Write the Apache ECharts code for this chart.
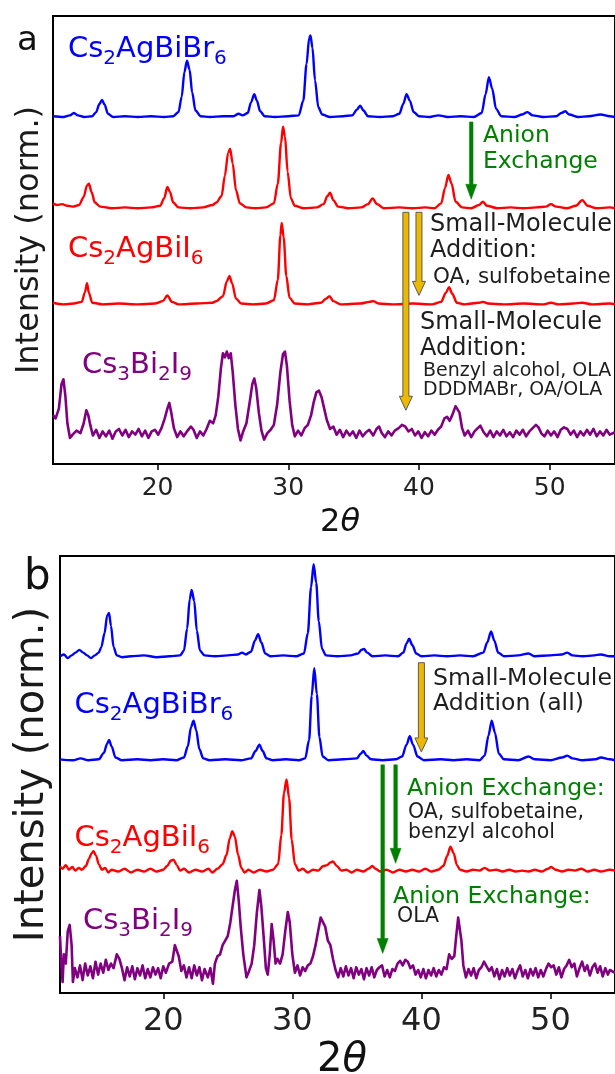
<!DOCTYPE html>
<html>
<head>
<meta charset="utf-8">
<script src="https://cdn.jsdelivr.net/npm/echarts@6.0.0/dist/echarts.min.js"></script>
<style>html,body{margin:0;padding:0;background:#fff}#c{width:615px;height:1074px}</style>
</head>
<body>
<div id="c"></div>
<script>
// ---------- data (2theta in degrees, normalized intensity) ----------
const xTicks = [20, 30, 40, 50];

// Panel a
const aBr = [[12.0,0.01],[12.8,0.0],[13.3,0.02],[13.6,0.05],[13.9,0.02],[14.4,0.0],[15.0,0.01],[15.3,0.06],[15.55,0.16],[15.75,0.21],[15.95,0.15],[16.2,0.04],[16.6,0.0],[17.5,0.01],[18.5,0.0],[19.5,0.01],[20.5,0.0],[21.2,0.01],[21.6,0.06],[21.85,0.25],[22.05,0.55],[22.25,0.69],[22.45,0.58],[22.65,0.3],[22.9,0.08],[23.3,0.01],[24.0,0.0],[25.0,0.01],[25.8,0.01],[26.2,0.04],[26.5,0.02],[26.9,0.05],[27.15,0.18],[27.4,0.28],[27.6,0.2],[27.85,0.07],[28.2,0.01],[29.0,0.0],[30.0,0.01],[30.8,0.02],[31.15,0.2],[31.4,0.65],[31.6,0.97],[31.7,1.0],[31.85,0.85],[32.05,0.45],[32.3,0.12],[32.6,0.03],[33.2,0.0],[34.2,0.01],[34.9,0.02],[35.25,0.09],[35.5,0.14],[35.75,0.08],[36.1,0.01],[37.0,0.0],[38.0,0.01],[38.5,0.04],[38.8,0.16],[39.05,0.28],[39.3,0.2],[39.6,0.06],[40.0,0.01],[40.8,0.0],[41.5,0.02],[42.2,0.0],[43.2,0.01],[44.2,0.0],[44.8,0.05],[45.1,0.28],[45.35,0.49],[45.6,0.35],[45.9,0.1],[46.3,0.01],[47.3,0.0],[47.9,0.03],[48.3,0.06],[48.7,0.02],[49.5,0.0],[50.5,0.01],[50.9,0.05],[51.2,0.07],[51.5,0.03],[52.2,0.0],[53.0,0.01],[53.9,0.03],[54.6,0.01],[55,0.0]];
const aIAnion = [[12.0,0.06],[12.3,0.04],[12.7,0.05],[13.1,0.03],[13.5,0.02],[14.0,0.04],[14.35,0.14],[14.6,0.28],[14.75,0.3],[14.95,0.2],[15.2,0.07],[15.6,0.02],[16.5,0.0],[17.5,0.01],[18.5,0.0],[19.5,0.01],[20.2,0.03],[20.5,0.12],[20.75,0.26],[20.95,0.2],[21.2,0.07],[21.6,0.01],[22.5,0.0],[23.5,0.01],[24.2,0.04],[24.5,0.07],[24.9,0.15],[25.15,0.4],[25.4,0.68],[25.55,0.73],[25.75,0.55],[26.0,0.22],[26.3,0.06],[26.8,0.01],[27.5,0.0],[28.3,0.01],[28.9,0.06],[29.2,0.3],[29.45,0.8],[29.6,1.0],[29.75,0.88],[29.95,0.45],[30.2,0.12],[30.5,0.03],[31.2,0.0],[32.2,0.01],[32.7,0.05],[33.0,0.15],[33.2,0.19],[33.45,0.1],[33.8,0.02],[34.6,0.0],[35.6,0.01],[36.1,0.05],[36.45,0.12],[36.8,0.05],[37.3,0.0],[38.5,0.01],[39.5,0.0],[40.5,0.01],[41.2,0.0],[41.7,0.06],[42.0,0.25],[42.25,0.41],[42.5,0.3],[42.8,0.08],[43.3,0.01],[44.0,0.0],[44.6,0.04],[44.9,0.08],[45.2,0.03],[46.0,0.0],[47.0,0.01],[48.0,0.0],[49.0,0.01],[49.7,0.02],[50.1,0.05],[50.5,0.02],[51.3,0.0],[52.0,0.03],[52.5,0.1],[52.9,0.03],[53.6,0.0],[54.6,0.01],[55,0.0]];
const aI = [[12.0,0.02],[12.8,0.0],[13.6,0.01],[14.2,0.03],[14.45,0.15],[14.6,0.26],[14.75,0.14],[15.0,0.02],[15.8,0.0],[17.0,0.01],[18.5,0.0],[19.8,0.01],[20.4,0.04],[20.75,0.11],[21.1,0.03],[21.6,0.0],[23.0,0.01],[24.2,0.02],[24.5,0.04],[25.0,0.1],[25.3,0.28],[25.5,0.35],[25.7,0.26],[26.0,0.07],[26.4,0.01],[27.3,0.0],[28.3,0.01],[28.9,0.05],[29.2,0.3],[29.4,0.85],[29.5,1.0],[29.65,0.82],[29.85,0.35],[30.1,0.08],[30.5,0.01],[31.5,0.0],[32.5,0.02],[32.9,0.07],[33.15,0.1],[33.45,0.04],[34.0,0.0],[35.5,0.01],[36.2,0.03],[36.5,0.04],[36.9,0.01],[38.0,0.0],[39.5,0.01],[41.0,0.0],[41.7,0.03],[42.05,0.14],[42.3,0.21],[42.55,0.13],[42.9,0.02],[43.5,0.0],[44.6,0.02],[44.9,0.03],[45.3,0.01],[46.5,0.0],[48.0,0.01],[49.5,0.0],[50.1,0.02],[50.7,0.0],[51.8,0.01],[52.5,0.02],[53.2,0.0],[54.6,0.01],[55,0.0]];
const aBiI = [[12.0,0.22],[12.2,0.18],[12.45,0.3],[12.65,0.6],[12.8,0.66],[12.95,0.45],[13.1,0.12],[13.3,-0.06],[13.5,-0.02],[13.8,0.03],[14.1,0.0],[14.35,0.12],[14.55,0.28],[14.7,0.22],[14.85,0.1],[15.05,-0.03],[15.3,0.04],[15.55,-0.06],[15.8,0.02],[16.05,-0.04],[16.3,0.03],[16.55,-0.07],[16.8,0.02],[17.05,0.05],[17.3,-0.03],[17.55,0.04],[17.8,-0.05],[18.05,0.02],[18.3,-0.02],[18.55,0.05],[18.8,-0.04],[19.05,0.03],[19.3,-0.06],[19.55,0.02],[19.8,0.04],[20.05,-0.02],[20.3,0.06],[20.55,0.18],[20.75,0.3],[20.9,0.37],[21.05,0.25],[21.25,0.06],[21.5,-0.05],[21.75,0.02],[22.0,-0.04],[22.3,0.03],[22.55,0.08],[22.75,0.04],[23.0,-0.06],[23.25,0.02],[23.5,-0.03],[23.75,0.05],[24.0,0.15],[24.25,0.12],[24.45,0.22],[24.65,0.45],[24.85,0.8],[25.0,0.98],[25.15,0.93],[25.3,1.0],[25.45,0.92],[25.6,0.98],[25.75,0.75],[25.95,0.35],[26.15,0.05],[26.35,-0.09],[26.55,0.02],[26.8,0.12],[27.05,0.38],[27.25,0.6],[27.4,0.67],[27.55,0.55],[27.75,0.25],[27.95,0.03],[28.15,-0.08],[28.4,0.0],[28.65,0.04],[28.9,0.1],[29.15,0.35],[29.4,0.75],[29.6,0.97],[29.75,1.0],[29.9,0.82],[30.1,0.4],[30.3,0.1],[30.5,-0.04],[30.75,0.03],[31.0,-0.03],[31.25,0.06],[31.5,0.1],[31.75,0.22],[31.95,0.38],[32.15,0.5],[32.35,0.52],[32.55,0.44],[32.75,0.3],[32.95,0.16],[33.2,0.05],[33.45,0.08],[33.7,-0.02],[33.95,0.04],[34.2,-0.05],[34.45,0.03],[34.7,-0.03],[34.95,0.02],[35.2,-0.06],[35.45,0.03],[35.7,-0.04],[35.95,0.01],[36.2,0.04],[36.5,-0.03],[36.75,0.05],[36.95,0.08],[37.15,0.0],[37.4,-0.05],[37.65,0.02],[37.9,-0.03],[38.15,0.03],[38.45,0.06],[38.7,0.1],[38.95,0.08],[39.2,0.02],[39.45,0.05],[39.7,-0.03],[39.95,0.02],[40.2,-0.06],[40.45,0.01],[40.7,-0.04],[40.95,0.03],[41.2,-0.02],[41.45,0.04],[41.7,0.08],[41.95,0.18],[42.15,0.2],[42.35,0.15],[42.55,0.22],[42.8,0.33],[42.95,0.34],[43.1,0.25],[43.3,0.06],[43.5,-0.03],[43.75,0.03],[44.0,-0.05],[44.25,0.02],[44.5,0.06],[44.7,0.09],[44.95,0.01],[45.2,-0.04],[45.45,0.03],[45.7,-0.05],[45.95,0.02],[46.2,-0.03],[46.45,0.04],[46.7,-0.04],[46.95,0.01],[47.2,-0.05],[47.45,0.03],[47.7,-0.02],[47.95,0.04],[48.2,-0.04],[48.45,0.02],[48.7,0.06],[48.95,0.1],[49.15,0.07],[49.35,0.0],[49.6,-0.04],[49.85,0.03],[50.1,-0.03],[50.35,0.02],[50.6,-0.05],[50.85,0.04],[51.1,0.07],[51.35,0.05],[51.6,-0.02],[51.85,0.03],[52.1,-0.05],[52.35,0.02],[52.6,-0.03],[52.85,0.04],[53.1,-0.02],[53.35,0.05],[53.6,-0.04],[53.85,0.02],[54.1,-0.03],[54.35,0.04],[54.6,-0.02],[55,0.01]];

// Panel b
const bBrSM = [[12.0,0.0],[12.3,0.02],[12.6,-0.02],[12.9,0.01],[13.2,0.04],[13.5,0.07],[13.8,0.04],[14.1,0.01],[14.4,-0.02],[14.7,0.01],[15.0,0.04],[15.2,0.1],[15.45,0.25],[15.65,0.44],[15.8,0.47],[15.95,0.33],[16.15,0.1],[16.4,0.01],[16.8,-0.01],[17.5,0.0],[18.5,0.01],[19.5,-0.01],[20.5,0.0],[21.3,0.01],[21.6,0.06],[21.85,0.3],[22.05,0.62],[22.2,0.72],[22.4,0.6],[22.6,0.28],[22.85,0.06],[23.2,0.01],[24.0,0.0],[25.0,0.01],[25.8,0.02],[26.1,0.04],[26.4,0.02],[26.8,0.05],[27.1,0.17],[27.35,0.24],[27.6,0.15],[27.9,0.03],[28.3,0.0],[29.3,0.01],[30.3,0.0],[30.9,0.03],[31.2,0.25],[31.45,0.75],[31.65,1.0],[31.85,0.8],[32.05,0.38],[32.3,0.08],[32.6,0.01],[33.5,0.0],[34.5,0.01],[35.1,0.03],[35.35,0.07],[35.55,0.08],[35.8,0.04],[36.2,0.0],[37.2,0.01],[38.2,0.0],[38.6,0.04],[38.85,0.14],[39.05,0.19],[39.3,0.12],[39.6,0.03],[40.0,0.0],[41.0,0.01],[42.0,0.0],[43.0,0.01],[44.0,0.0],[44.8,0.04],[45.1,0.15],[45.4,0.27],[45.65,0.17],[45.95,0.04],[46.4,0.0],[47.5,0.01],[48.3,0.03],[48.8,0.0],[50.0,0.01],[50.9,0.02],[51.3,0.04],[51.7,0.01],[52.5,0.0],[53.4,0.01],[53.9,0.02],[54.6,0.0],[55,0.0]];
const bBr = [[12.0,0.01],[13.0,0.0],[13.6,0.02],[14.2,0.0],[15.0,0.01],[15.4,0.08],[15.65,0.18],[15.8,0.22],[16.0,0.15],[16.3,0.03],[16.8,0.0],[18.0,0.01],[19.0,0.0],[20.0,0.01],[21.0,0.0],[21.6,0.03],[21.9,0.15],[22.15,0.36],[22.35,0.43],[22.55,0.33],[22.8,0.12],[23.1,0.02],[23.6,0.0],[24.8,0.01],[26.0,0.0],[26.8,0.02],[27.15,0.1],[27.45,0.17],[27.7,0.1],[28.0,0.02],[28.5,0.0],[29.5,0.01],[30.5,0.0],[31.0,0.02],[31.3,0.22],[31.5,0.7],[31.7,1.0],[31.9,0.72],[32.1,0.25],[32.35,0.04],[32.8,0.0],[34.0,0.01],[35.0,0.02],[35.3,0.07],[35.5,0.1],[35.75,0.05],[36.1,0.01],[37.0,0.0],[38.0,0.01],[38.5,0.04],[38.85,0.17],[39.1,0.26],[39.35,0.17],[39.7,0.04],[40.2,0.0],[41.5,0.01],[42.5,0.0],[43.5,0.01],[44.5,0.0],[44.9,0.05],[45.2,0.27],[45.45,0.43],[45.7,0.3],[46.0,0.07],[46.4,0.01],[47.5,0.0],[48.3,0.04],[48.8,0.01],[50.0,0.0],[50.9,0.03],[51.3,0.05],[51.7,0.02],[52.5,0.0],[53.5,0.01],[53.9,0.03],[54.6,0.01],[55,0.0]];
const bI = [[12.0,0.06],[12.2,0.03],[12.45,0.07],[12.7,0.02],[12.95,0.05],[13.2,0.01],[13.45,0.04],[13.7,0.02],[14.0,0.06],[14.25,0.14],[14.45,0.2],[14.6,0.22],[14.8,0.17],[15.0,0.08],[15.25,0.02],[15.5,0.04],[15.75,-0.01],[16.0,0.02],[16.5,0.0],[17.0,0.03],[17.5,-0.01],[18.0,0.02],[18.5,0.0],[19.0,0.03],[19.5,0.0],[20.0,0.02],[20.3,0.06],[20.6,0.12],[20.8,0.13],[21.05,0.07],[21.3,0.01],[21.6,0.03],[22.0,-0.01],[22.5,0.02],[23.0,0.0],[23.5,0.03],[23.8,-0.01],[24.2,0.03],[24.6,0.08],[24.9,0.18],[25.15,0.36],[25.35,0.44],[25.55,0.38],[25.8,0.18],[26.05,0.04],[26.3,-0.01],[26.6,0.02],[27.0,-0.01],[27.5,0.02],[28.0,0.0],[28.5,0.02],[28.9,0.08],[29.15,0.4],[29.35,0.85],[29.55,1.0],[29.75,0.8],[29.95,0.35],[30.2,0.08],[30.5,0.01],[30.8,0.03],[31.2,-0.01],[31.6,0.02],[32.0,0.01],[32.4,0.06],[32.7,0.07],[32.95,0.1],[33.15,0.11],[33.45,0.06],[33.8,0.01],[34.2,0.02],[34.6,-0.01],[35.0,0.02],[35.5,0.0],[35.9,0.03],[36.2,0.06],[36.45,0.03],[36.8,0.0],[37.3,0.02],[37.8,-0.01],[38.3,0.02],[38.8,0.0],[39.3,0.02],[39.8,0.0],[40.3,0.03],[40.8,0.0],[41.3,0.02],[41.7,0.06],[42.0,0.17],[42.25,0.27],[42.5,0.2],[42.75,0.07],[43.0,0.02],[43.5,0.0],[44.0,0.02],[44.5,0.01],[44.9,0.04],[45.3,0.01],[45.8,0.02],[46.3,0.0],[46.8,0.02],[47.3,0.0],[47.8,0.01],[48.3,0.0],[48.8,0.02],[49.3,0.0],[49.8,0.03],[50.05,0.05],[50.4,0.02],[50.9,0.0],[51.4,0.02],[51.9,0.01],[52.4,0.03],[52.9,0.0],[53.4,0.02],[53.9,0.0],[54.6,0.02],[55,0.01]];
const bBiI = [[12.0,0.4],[12.1,0.1],[12.2,-0.1],[12.3,0.2],[12.45,0.1],[12.6,0.45],[12.75,0.52],[12.9,0.3],[13.0,-0.1],[13.15,0.05],[13.35,-0.05],[13.55,0.08],[13.75,-0.08],[13.95,0.1],[14.15,-0.03],[14.35,0.07],[14.55,-0.06],[14.75,0.12],[14.95,-0.02],[15.15,0.1],[15.35,0.0],[15.55,0.14],[15.75,0.03],[15.95,0.1],[16.15,0.05],[16.4,0.2],[16.6,0.15],[16.8,0.05],[17.0,-0.08],[17.2,0.06],[17.4,-0.04],[17.6,0.07],[17.8,-0.07],[18.0,0.05],[18.2,-0.03],[18.4,0.08],[18.6,-0.06],[18.8,0.04],[19.0,-0.05],[19.2,0.06],[19.4,-0.02],[19.6,0.05],[19.8,-0.06],[20.0,0.07],[20.2,0.0],[20.45,0.1],[20.7,0.12],[20.9,0.3],[21.05,0.32],[21.2,0.18],[21.4,0.02],[21.6,0.08],[21.8,-0.05],[22.0,0.06],[22.2,-0.06],[22.4,0.08],[22.6,-0.03],[22.8,0.06],[23.0,-0.08],[23.2,0.04],[23.45,-0.05],[23.65,0.05],[23.85,-0.12],[24.0,0.1],[24.2,0.18],[24.4,0.2],[24.6,0.3],[24.8,0.35],[25.0,0.4],[25.2,0.55],[25.4,0.75],[25.55,0.9],[25.7,1.0],[25.85,0.78],[26.0,0.5],[26.2,0.2],[26.45,-0.05],[26.65,0.02],[26.85,0.1],[27.05,0.3],[27.25,0.65],[27.45,0.9],[27.6,0.72],[27.8,0.35],[27.95,0.05],[28.1,-0.02],[28.25,0.2],[28.4,0.53],[28.55,0.35],[28.7,0.1],[28.85,0.15],[29.05,0.1],[29.25,0.2],[29.45,0.45],[29.65,0.66],[29.8,0.55],[30.0,0.2],[30.2,0.0],[30.4,0.08],[30.6,-0.03],[30.8,0.06],[31.0,0.02],[31.2,0.08],[31.4,0.1],[31.6,0.18],[31.8,0.3],[32.0,0.45],[32.2,0.6],[32.35,0.62],[32.55,0.5],[32.75,0.35],[32.95,0.3],[33.15,0.15],[33.35,0.03],[33.55,-0.05],[33.75,0.05],[33.95,-0.04],[34.15,0.07],[34.35,-0.03],[34.55,0.05],[34.75,-0.06],[34.95,0.06],[35.15,-0.02],[35.35,0.04],[35.55,-0.07],[35.75,0.05],[35.95,-0.03],[36.15,0.06],[36.35,-0.05],[36.55,0.03],[36.75,0.06],[36.95,0.08],[37.15,-0.04],[37.35,0.03],[37.55,-0.05],[37.75,0.04],[37.95,0.02],[38.15,0.1],[38.35,0.13],[38.55,0.08],[38.75,0.14],[38.95,0.12],[39.15,0.05],[39.35,0.08],[39.55,-0.02],[39.75,0.03],[39.95,-0.05],[40.15,0.04],[40.35,-0.06],[40.55,0.03],[40.75,-0.03],[40.95,0.05],[41.15,-0.04],[41.35,0.03],[41.55,-0.02],[41.75,0.06],[41.95,0.04],[42.15,0.2],[42.35,0.15],[42.55,0.18],[42.7,0.4],[42.85,0.6],[42.95,0.61],[43.1,0.35],[43.25,0.08],[43.45,-0.05],[43.65,0.04],[43.85,-0.03],[44.05,0.05],[44.25,-0.06],[44.45,0.03],[44.65,0.06],[44.85,0.12],[45.05,0.07],[45.25,0.02],[45.45,0.06],[45.65,-0.04],[45.85,0.04],[46.05,-0.07],[46.25,0.03],[46.45,-0.04],[46.65,0.05],[46.85,-0.03],[47.05,0.04],[47.25,-0.06],[47.45,0.02],[47.65,0.08],[47.85,-0.04],[48.05,0.03],[48.25,-0.06],[48.45,0.04],[48.65,-0.03],[48.85,0.05],[49.05,-0.05],[49.25,0.03],[49.45,-0.04],[49.65,0.04],[49.85,0.1],[50.05,0.06],[50.25,0.08],[50.45,-0.02],[50.65,0.06],[50.85,-0.05],[51.05,0.04],[51.25,0.08],[51.45,0.14],[51.65,0.06],[51.85,0.1],[52.05,-0.04],[52.25,0.05],[52.45,0.12],[52.65,0.02],[52.85,0.08],[53.05,-0.03],[53.25,0.06],[53.45,0.1],[53.65,0.0],[53.85,0.07],[54.05,-0.04],[54.25,0.05],[54.45,-0.02],[54.6,0.03],[55,0.0]];

// vertical stacking offsets (same units as normalized intensity)
const offsetsA = [4.26, 3.14, 1.96, 0.38];
const offsetsB = [3.66, 2.53, 1.32, 0.22];
const yMaxA = 5.5, yMaxB = 4.75;

// arrows: [2theta, yStart, yEnd, kind]  kind 0 = anion exchange (green), 1 = small-molecule (gold)
const arrowsA = [[44, 4.20, 3.25, 0], [39, 3.09, 0.66, 1], [40, 3.09, 2.07, 1]];
const arrowsB = [[40, 3.59, 2.62, 1], [37, 2.48, 0.43, 0], [38, 2.48, 1.41, 0]];

// ---------- chart ----------
const FONT = 'DejaVu Sans';
const COLORS = {br: '#0000ff', i: '#ff0000', bi: '#800080', green: '#008000', gold: '#EDB800'};

function shift(arr, off) { return arr.map(p => [p[0], p[1] + off]); }

function lineSeries(data, off, color, idx, width, smooth) {
  return {
    type: 'line', xAxisIndex: idx, yAxisIndex: idx, data: shift(data, off),
    showSymbol: false, symbol: 'none', smooth: smooth || false, smoothMonotone: 'x', silent: true,
    lineStyle: {color: color, width: width || 2.4, join: 'round'}, z: 2
  };
}

function arrowSeries(data, idx) {
  return {
    type: 'custom', xAxisIndex: idx, yAxisIndex: idx, data: data, z: 5, silent: true,
    encode: {x: 0, y: [1, 2]},
    renderItem: function (params, api) {
      const p0 = api.coord([api.value(0), api.value(1)]);
      const p1 = api.coord([api.value(0), api.value(2)]);
      const gold = api.value(3) === 1;
      const sw = gold ? 3 : 1.8, hw = gold ? 6.5 : 5.5, hl = gold ? 14 : 15;
      const x = p0[0], ya = p0[1], yb = p1[1];
      const pts = [[x - sw, ya], [x + sw, ya], [x + sw, yb - hl], [x + hw, yb - hl], [x, yb],
                   [x - hw, yb - hl], [x - sw, yb - hl]];
      return {type: 'polygon', shape: {points: pts},
        style: gold ? {fill: COLORS.gold, stroke: '#5a5a5a', lineWidth: 1}
                    : {fill: COLORS.green, stroke: COLORS.green, lineWidth: 0.5}};
    }
  };
}

function xAxisCfg(idx, fs, margin) {
  return {
    gridIndex: idx, type: 'value', min: 12, max: 55,
    axisLine: {show: false}, splitLine: {show: false},
    axisTick: {show: true, customValues: xTicks, length: 6, lineStyle: {color: '#000', width: 1.5}},
    axisLabel: {customValues: xTicks, fontSize: fs, fontFamily: FONT, color: '#222', margin: margin}
  };
}

function txt(x, y, text, size, color, extra) {
  return Object.assign({
    type: 'text', x: x, y: y, silent: true,
    style: {text: text, fontSize: size, fontFamily: FONT, fill: color,
            align: 'left', verticalAlign: 'middle', textAlign: 'left', textVerticalAlign: 'middle'}
  }, extra || {});
}

function chem(x, y, text, color) {
  const m = {fontSize: 29, fontFamily: FONT, fill: color, lineHeight: 40, verticalAlign: 'middle'};
  const s = {fontSize: 20, fontFamily: FONT, fill: color, lineHeight: 22, verticalAlign: 'bottom'};
  return {type: 'text', x: x, y: y, silent: true,
    style: {text: text, rich: {m: m, s: s}, fill: color, fontSize: 29, fontFamily: FONT,
            align: 'left', verticalAlign: 'middle', textAlign: 'left', textVerticalAlign: 'middle'}};
}

function twoTheta(cx, cy, size) {
  return {type: 'text', x: cx, y: cy, silent: true,
    style: {text: '{n|2}{i|θ}', fill: '#111',
      rich: {n: {fontSize: size, fontFamily: FONT, fill: '#111'},
             i: {fontSize: size, fontFamily: FONT, fontStyle: 'italic', fill: '#111'}},
      fontSize: size, fontFamily: FONT,
      align: 'center', verticalAlign: 'middle', textAlign: 'center', textVerticalAlign: 'middle'}};
}

function yLabel(cx, cy, size) {
  return {type: 'text', x: cx, y: cy, rotation: Math.PI / 2, silent: true,
    style: {text: 'Intensity (norm.)', fontSize: size, fontFamily: FONT, fill: '#1a1a1a',
            align: 'center', verticalAlign: 'middle', textAlign: 'center', textVerticalAlign: 'middle'}};
}

const BR = '{m|Cs}{s|2}{m|AgBiBr}{s|6}';
const IOD = '{m|Cs}{s|2}{m|AgBiI}{s|6}';
const BII = '{m|Cs}{s|3}{m|Bi}{s|2}{m|I}{s|9}';
const DARK = '#1e1e1e';

const option = {
  animation: false,
  backgroundColor: '#fff',
  grid: [
    {left: 53, top: 16, width: 569, height: 448, show: true, borderColor: '#000', borderWidth: 2, backgroundColor: 'transparent'},
    {left: 60, top: 556, width: 562, height: 437, show: true, borderColor: '#000', borderWidth: 2, backgroundColor: 'transparent'}
  ],
  xAxis: [xAxisCfg(0, 25, 12), xAxisCfg(1, 32, 13)],
  yAxis: [
    {gridIndex: 0, type: 'value', min: 0, max: yMaxA, show: false, splitLine: {show: false}},
    {gridIndex: 1, type: 'value', min: 0, max: yMaxB, show: false, splitLine: {show: false}}
  ],
  series: [
    lineSeries(aBr, offsetsA[0], COLORS.br, 0, 2.4, 0.3),
    lineSeries(aIAnion, offsetsA[1], COLORS.i, 0, 2.4, 0.3),
    lineSeries(aI, offsetsA[2], COLORS.i, 0, 2.4, 0.3),
    lineSeries(aBiI, offsetsA[3], COLORS.bi, 0, 2.6),
    lineSeries(bBrSM, offsetsB[0], COLORS.br, 1, 2.4, 0.3),
    lineSeries(bBr, offsetsB[1], COLORS.br, 1, 2.4, 0.3),
    lineSeries(bI, offsetsB[2], COLORS.i, 1, 2.4, 0.3),
    lineSeries(bBiI, offsetsB[3], COLORS.bi, 1, 2.6),
    arrowSeries(arrowsA, 0),
    arrowSeries(arrowsB, 1)
  ],
  graphic: [
    // panel a
    txt(17, 41, 'a', 34, '#111'),
    chem(68, 49, BR, COLORS.br),
    chem(68, 249, IOD, COLORS.i),
    chem(82, 365, BII, COLORS.bi),
    txt(483, 136, 'Anion', 23.5, COLORS.green),
    txt(483, 162, 'Exchange', 23.5, COLORS.green),
    txt(430, 225, 'Small-Molecule', 24, DARK),
    txt(430, 251, 'Addition:', 24, DARK),
    txt(433, 277, 'OA, sulfobetaine', 21.5, DARK),
    txt(420, 323, 'Small-Molecule', 24, DARK),
    txt(420, 349, 'Addition:', 24, DARK),
    txt(423, 371, 'Benzyl alcohol, OLA', 19, DARK),
    txt(423, 390, 'DDDMABr, OA/OLA', 19, DARK),
    yLabel(29.5, 240, 32),
    twoTheta(340, 523, 32),
    // panel b
    txt(24, 578, 'b', 42, '#111'),
    chem(74.5, 705, BR, COLORS.br),
    chem(74.5, 838, IOD, COLORS.i),
    chem(83, 921, BII, COLORS.bi),
    txt(433, 679, 'Small-Molecule', 23.6, DARK),
    txt(433, 704, 'Addition (all)', 23.6, DARK),
    txt(407, 789, 'Anion Exchange:', 23.6, COLORS.green),
    txt(408, 813, 'OA, sulfobetaine,', 20.5, DARK),
    txt(408, 833, 'benzyl alcohol', 20.5, DARK),
    txt(393, 897, 'Anion Exchange:', 23.6, COLORS.green),
    txt(397, 917, 'OLA', 20.5, DARK),
    yLabel(32.5, 774.5, 40),
    twoTheta(342, 1061, 40)
  ]
};

const chart = echarts.init(document.getElementById('c'), null, {renderer: 'canvas'});
chart.setOption(option);
</script>
</body>
</html>
